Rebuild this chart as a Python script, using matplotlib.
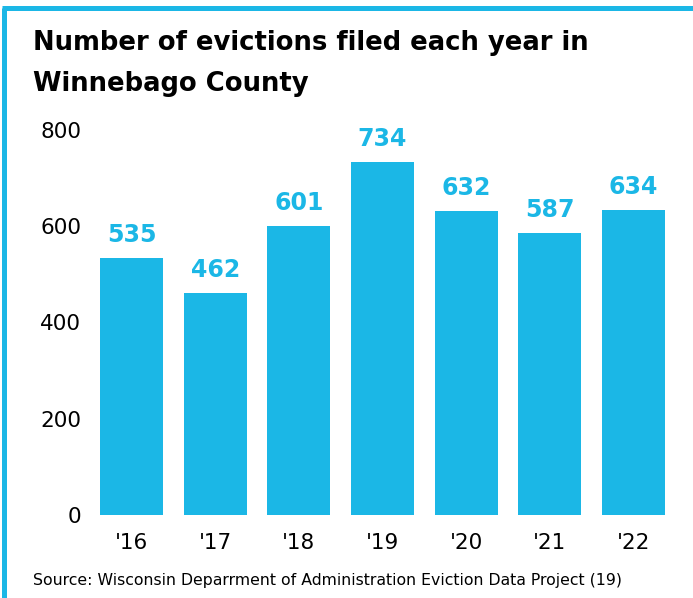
import matplotlib.pyplot as plt
from matplotlib.lines import Line2D

# 数据
years = ["'16", "'17", "'18", "'19", "'20", "'21", "'22"]
evictions = [535, 462, 601, 734, 632, 587, 634]
y_ticks = [0, 200, 400, 600, 800]

title = "Number of evictions filed each year in\nWinnebago County"
source = "Source: Wisconsin Deparrment of Administration Eviction Data Project (19)"

bar_color = '#1BB7E6'
plt.rcParams['font.family'] = ['DejaVu Sans']

W, H = 693, 598
fig = plt.figure(figsize=(W / 100, H / 100), dpi=100)

# 坐标轴位置 (像素换算)
left, right = 89.7, 675.3
top_px, bottom_px = 130, 515
ax = fig.add_axes([left / W, 1 - bottom_px / H, (right - left) / W, (bottom_px - top_px) / H])

x = list(range(len(years)))
ax.bar(x, evictions, width=0.753, color=bar_color)
for xi, v in zip(x, evictions):
    ax.text(xi, v + 22, str(v), ha='center', va='bottom', color=bar_color,
            fontsize=17, fontweight='bold')

ax.set_xlim(-0.5, len(years) - 0.5)
ax.set_ylim(0, 800)
ax.set_yticks(y_ticks)
ax.set_yticklabels([str(t) for t in y_ticks], fontsize=15.5)
ax.set_xticks(x)
ax.set_xticklabels(years, fontsize=15.5)
ax.tick_params(length=0)
ax.tick_params(axis='y', pad=6)
ax.tick_params(axis='x', pad=13)
for s in ax.spines.values():
    s.set_visible(False)

# 标题和来源
fig.text(33 / W, 1 - 30 / H, title, ha='left', va='top', fontsize=18.6,
         fontweight='bold', linespacing=1.75)
fig.text(33 / W, 1 - 580 / H, source, ha='left', va='center', fontsize=11.3)

# 边框
fig.add_artist(Line2D([4 / W, 4 / W], [0, 1 - 7.5 / H], color=bar_color, lw=3.6,
                      transform=fig.transFigure, solid_capstyle='butt'))
fig.add_artist(Line2D([2 / W, 1], [1 - 7.5 / H, 1 - 7.5 / H], color=bar_color, lw=3.6,
                      transform=fig.transFigure, solid_capstyle='butt'))

fig.savefig('out.png', dpi=100)
